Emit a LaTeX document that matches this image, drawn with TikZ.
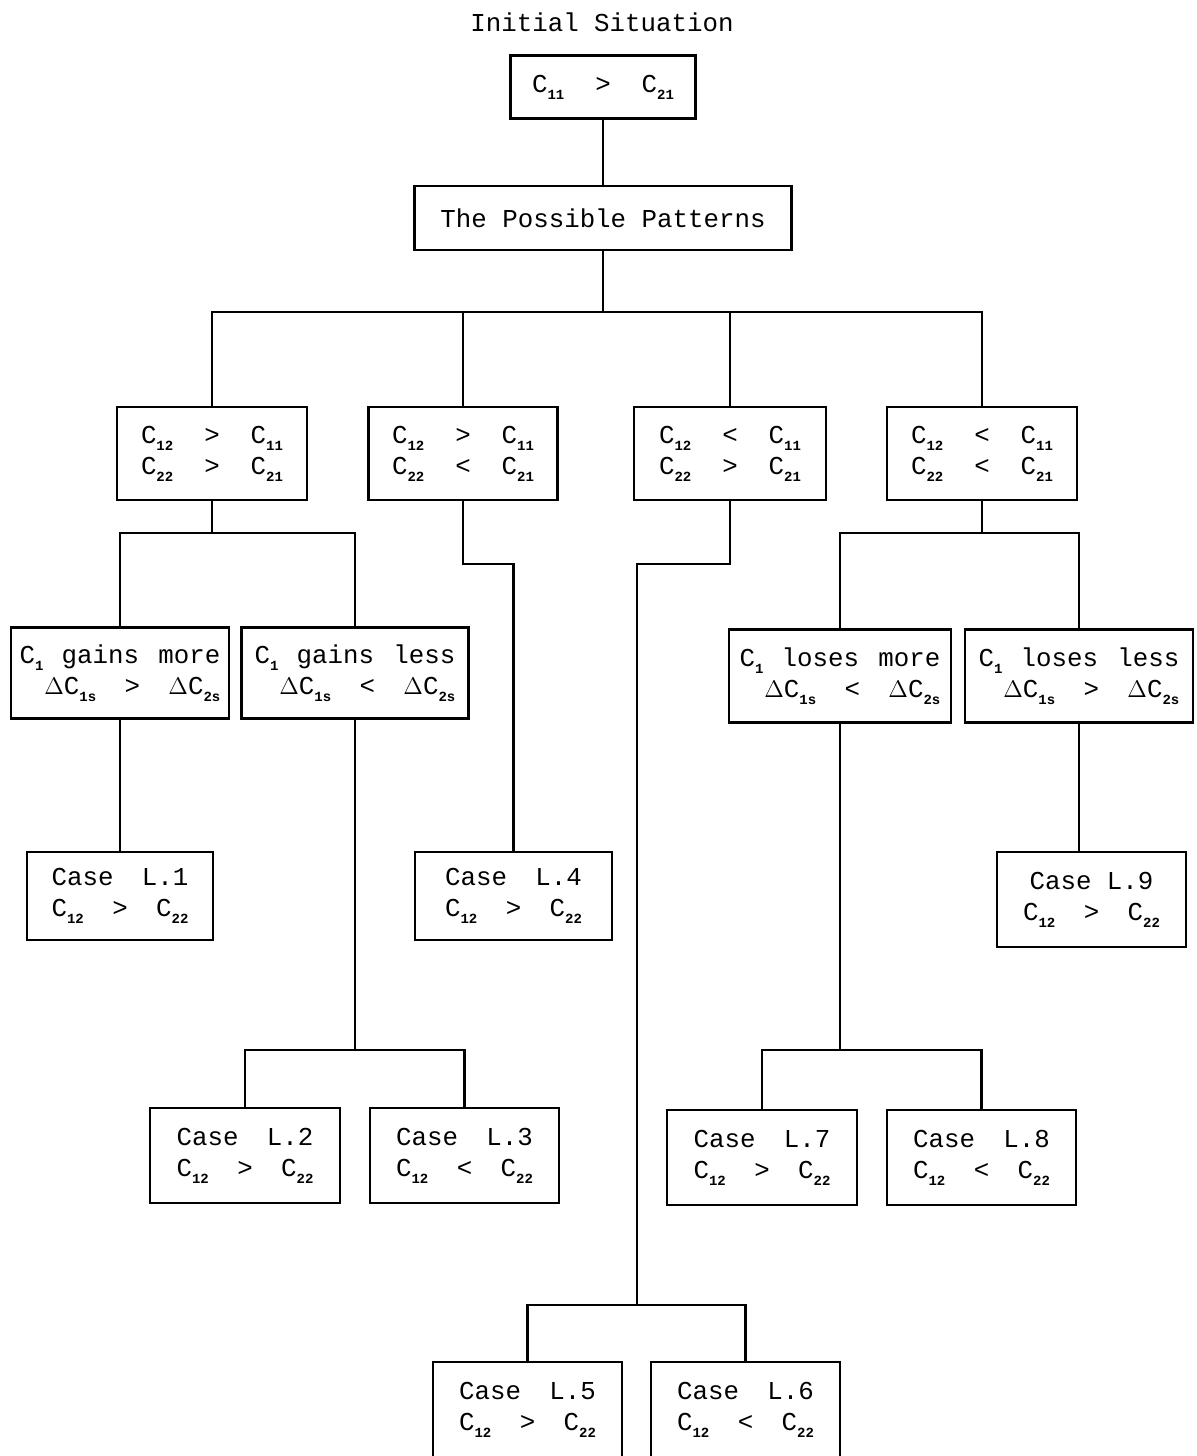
\documentclass[tikz,border=0pt]{standalone}
\usepackage{fontspec}
\setmonofont{Liberation Mono}
\newcommand\sbs[1]{\raisebox{-0.5ex}{\fontsize{7}{7}\selectfont\bfseries #1}}
\newcommand\gp{\hspace{1.2em}}
\begin{document}
\begin{tikzpicture}[x=0.5pt,y=-0.5pt,
  box/.style={draw, line width=1.3pt, inner sep=0pt, align=center,
    font=\fontsize{12.9}{15.5}\selectfont\ttfamily},
  rbox/.style={box, align=right},
  conn/.style={line width=1.3pt}]
\useasboundingbox (0,0) rectangle (1197,1456);
\node[font=\fontsize{12.9}{15.5}\selectfont\ttfamily] (title) at (602,22) {Initial Situation};
\node[box, minimum width=185*0.5pt, minimum height=63*0.5pt] (top) at (603,87) {C\sbs{11}\gp>\gp C\sbs{21}};
\node[box, minimum width=377*0.5pt, minimum height=64*0.5pt] (pp) at (603,218) {The Possible Patterns};
% level 2
\node[box, minimum width=190*0.5pt, minimum height=93*0.5pt] (A) at (212,453.5) {C\sbs{12}\gp>\gp C\sbs{11}\\C\sbs{22}\gp>\gp C\sbs{21}};
\node[box, minimum width=189*0.5pt, minimum height=93*0.5pt] (B) at (463,453.5) {C\sbs{12}\gp>\gp C\sbs{11}\\C\sbs{22}\gp<\gp C\sbs{21}};
\node[box, minimum width=192*0.5pt, minimum height=93*0.5pt] (C) at (730,453.5) {C\sbs{12}\gp<\gp C\sbs{11}\\C\sbs{22}\gp>\gp C\sbs{21}};
\node[box, minimum width=190*0.5pt, minimum height=93*0.5pt] (D) at (982,453.5) {C\sbs{12}\gp<\gp C\sbs{11}\\C\sbs{22}\gp<\gp C\sbs{21}};
% level 3
\node[rbox, minimum width=218*0.5pt, minimum height=91*0.5pt] (gm) at (120,673) {C\sbs{1}\hspace{0.7em}gains\hspace{0.75em}more\\$\Delta$C\sbs{1s}\hspace{1.1em}>\hspace{1.1em}$\Delta$C\sbs{2s}};
\node[rbox, minimum width=227*0.5pt, minimum height=91*0.5pt] (gl) at (355,673) {C\sbs{1}\hspace{0.7em}gains\hspace{0.75em}less\\$\Delta$C\sbs{1s}\hspace{1.1em}<\hspace{1.1em}$\Delta$C\sbs{2s}};
\node[rbox, minimum width=222*0.5pt, minimum height=93*0.5pt] (lm) at (840,676) {C\sbs{1}\hspace{0.7em}loses\hspace{0.75em}more\\$\Delta$C\sbs{1s}\hspace{1.1em}<\hspace{1.1em}$\Delta$C\sbs{2s}};
\node[rbox, minimum width=228*0.5pt, minimum height=93*0.5pt] (ll) at (1079,676) {C\sbs{1}\hspace{0.7em}loses\hspace{0.75em}less\\$\Delta$C\sbs{1s}\hspace{1.1em}>\hspace{1.1em}$\Delta$C\sbs{2s}};
% cases
\node[box, minimum width=186*0.5pt, minimum height=88*0.5pt] (L1) at (120,896) {Case\hspace{1.1em}L.1\\C\sbs{12}\hspace{1.1em}>\hspace{1.1em}C\sbs{22}};
\node[box, minimum width=197*0.5pt, minimum height=88*0.5pt] (L4) at (513.5,896) {Case\hspace{1.1em}L.4\\C\sbs{12}\hspace{1.1em}>\hspace{1.1em}C\sbs{22}};
\node[box, minimum width=189*0.5pt, minimum height=95*0.5pt] (L9) at (1091.5,899.5) {Case L.9\\C\sbs{12}\hspace{1.1em}>\hspace{1.1em}C\sbs{22}};
\node[box, minimum width=190*0.5pt, minimum height=95*0.5pt] (L2) at (245,1155.5) {Case\hspace{1.1em}L.2\\C\sbs{12}\hspace{1.1em}>\hspace{1.1em}C\sbs{22}};
\node[box, minimum width=189*0.5pt, minimum height=95*0.5pt] (L3) at (464.5,1155.5) {Case\hspace{1.1em}L.3\\C\sbs{12}\hspace{1.1em}<\hspace{1.1em}C\sbs{22}};
\node[box, minimum width=190*0.5pt, minimum height=95*0.5pt] (L7) at (762,1157.5) {Case\hspace{1.1em}L.7\\C\sbs{12}\hspace{1.1em}>\hspace{1.1em}C\sbs{22}};
\node[box, minimum width=189*0.5pt, minimum height=95*0.5pt] (L8) at (981.5,1157.5) {Case\hspace{1.1em}L.8\\C\sbs{12}\hspace{1.1em}<\hspace{1.1em}C\sbs{22}};
\node[box, minimum width=189*0.5pt, minimum height=95*0.5pt] (L5) at (527.5,1409.5) {Case\hspace{1.1em}L.5\\C\sbs{12}\hspace{1.1em}>\hspace{1.1em}C\sbs{22}};
\node[box, minimum width=189*0.5pt, minimum height=95*0.5pt] (L6) at (745.5,1409.5) {Case\hspace{1.1em}L.6\\C\sbs{12}\hspace{1.1em}<\hspace{1.1em}C\sbs{22}};
% junctions
\coordinate (j0) at (603,312);
\coordinate (jA) at (212,533);
\coordinate (jD) at (982,533);
\coordinate (jB) at (463,564);
\coordinate (jC) at (730,564);
\coordinate (jgl) at (355,1050);
\coordinate (jlm) at (840,1050);
\coordinate (jC2) at (637,1305);
% connectors
\draw[conn] (top.south) -- (pp.north);
\draw[conn] (pp.south) -- (j0);
\draw[conn] (A.north) |- (j0) -| (D.north);
\draw[conn] (B.north) -- (B.north |- j0);
\draw[conn] (C.north) -- (C.north |- j0);
\draw[conn] (A.south) -- (jA);
\draw[conn] (gm.north) |- (jA) -| (gl.north);
\draw[conn] (D.south) -- (jD);
\draw[conn] (lm.north) |- (jD) -| (ll.north);
\draw[conn] (B.south) -- (jB) -| (L4.north);
\draw[conn] (C.south) -- (jC) -| (jC2);
\draw[conn] (L5.north) |- (jC2) -| (L6.north);
\draw[conn] (gm.south) -- (L1.north);
\draw[conn] (ll.south) -- (ll.south |- L9.north);
\draw[conn] (gl.south) -- (jgl);
\draw[conn] (L2.north) |- (jgl) -| (L3.north);
\draw[conn] (lm.south) -- (jlm);
\draw[conn] (L7.north) |- (jlm) -| (L8.north);
\end{tikzpicture}
\end{document}
